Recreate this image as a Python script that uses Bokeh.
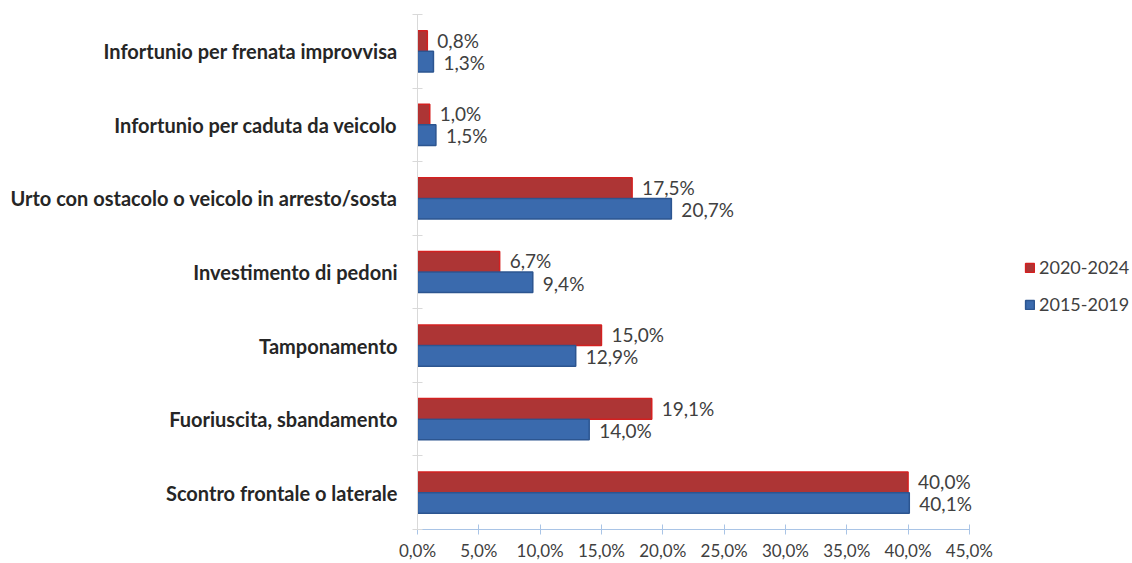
from bokeh.plotting import figure
from bokeh.models import ColumnDataSource, Range1d, FixedTicker, Legend, LegendItem, LabelSet
from bokeh.transform import dodge
from bokeh.core.properties import value
from bokeh.embed import file_html
from bokeh.resources import INLINE

categories = [
    "Infortunio per frenata improvvisa",
    "Infortunio per caduta da veicolo",
    "Urto con ostacolo o veicolo in arresto/sosta",
    "Investimento di pedoni",
    "Tamponamento",
    "Fuoriuscita, sbandamento",
    "Scontro frontale o laterale",
]
series_2020_2024 = [0.8, 1.0, 17.5, 6.7, 15.0, 19.1, 40.0]
series_2015_2019 = [1.3, 1.5, 20.7, 9.4, 12.9, 14.0, 40.1]
series_names = ["2020-2024", "2015-2019"]
x_ticks = [0, 5, 10, 15, 20, 25, 30, 35, 40, 45]

def fmt(v):
    return f"{v:.1f}".replace(".", ",") + "%"

n = len(categories)
ypos = [n - 1 - i for i in range(n)]

src_red = ColumnDataSource(dict(y=ypos, v=series_2020_2024, lab=[fmt(v) for v in series_2020_2024]))
src_blue = ColumnDataSource(dict(y=ypos, v=series_2015_2019, lab=[fmt(v) for v in series_2015_2019]))

FONT = "Lato"

# frame spans from x=417 to the page edge; the axis itself is bounded to 0..45
p = figure(width=1132, height=563, output_backend="svg", toolbar_location=None,
           x_range=Range1d(0, 58.3), y_range=Range1d(-0.5, n - 0.5),
           min_border_left=417, min_border_right=0, min_border_top=14, min_border_bottom=34)
p.outline_line_color = None
p.xgrid.grid_line_color = None
p.ygrid.grid_line_color = None
p.background_fill_color = "white"

red_fill, red_line = "#ad3535", "#d42020"
blue_fill, blue_line = "#3a6aad", "#2c5590"
bh = 0.28

r_red = p.hbar(y=dodge("y", 0.14, range=p.y_range), right="v", left=0, height=bh, source=src_red,
               fill_color=red_fill, line_color=red_line, line_width=1.5)
r_blue = p.hbar(y=dodge("y", -0.14, range=p.y_range), right="v", left=0, height=bh, source=src_blue,
                fill_color=blue_fill, line_color=blue_line, line_width=1.5)

lab_red = LabelSet(x="v", y=dodge("y", 0.15, range=p.y_range), text="lab", source=src_red,
                   x_offset=10, text_baseline="middle", text_font=value(FONT),
                   text_font_size="19px", text_color="#404040")
lab_blue = LabelSet(x="v", y=dodge("y", -0.15, range=p.y_range), text="lab", source=src_blue,
                    x_offset=10, text_baseline="middle", text_font=value(FONT),
                    text_font_size="19px", text_color="#404040")
p.add_layout(lab_red)
p.add_layout(lab_blue)

# y axis
p.yaxis.ticker = FixedTicker(ticks=ypos, minor_ticks=[k - 0.5 for k in range(n + 1)])
p.yaxis.major_label_overrides = {y: c for y, c in zip(ypos, categories)}
p.yaxis.axis_line_color = "#d9d9d9"
p.yaxis.major_tick_line_color = None
p.yaxis.minor_tick_line_color = "#d9d9d9"
p.yaxis.minor_tick_in = 5
p.yaxis.minor_tick_out = 5
p.yaxis.major_tick_out = 0
p.yaxis.major_tick_in = 0
p.yaxis.major_label_standoff = 15
p.yaxis.major_label_text_font = FONT
p.yaxis.major_label_text_font_style = "bold"
p.yaxis.major_label_text_font_size = "20px"
p.yaxis.major_label_text_color = "#262626"

# x axis
p.xaxis.ticker = FixedTicker(ticks=x_ticks, minor_ticks=[])
p.xaxis.bounds = (0, 45)
p.xaxis.major_label_overrides = {t: fmt(t) for t in x_ticks}
p.xaxis.axis_line_color = "#a9c4e6"
p.xaxis.major_tick_line_color = "#a9c4e6"
p.xaxis.major_tick_in = 5
p.xaxis.major_tick_out = 5
p.xaxis.minor_tick_line_color = None
p.xaxis.major_label_standoff = 5
p.xaxis.major_label_text_font = FONT
p.xaxis.major_label_text_font_size = "17px"
p.xaxis.major_label_text_color = "#404040"

legend = Legend(items=[LegendItem(label=series_names[0], renderers=[r_red]),
                       LegendItem(label=series_names[1], renderers=[r_blue])],
                location=(607, 214), orientation="vertical",
                border_line_color=None, background_fill_alpha=0,
                glyph_width=11, glyph_height=11, label_height=20, spacing=15,
                label_text_font=FONT, label_text_font_size="18px", label_text_color="#404040",
                label_standoff=4, padding=0, margin=0)
p.add_layout(legend, "center")

open("out.html", "w").write(file_html(p, INLINE))
